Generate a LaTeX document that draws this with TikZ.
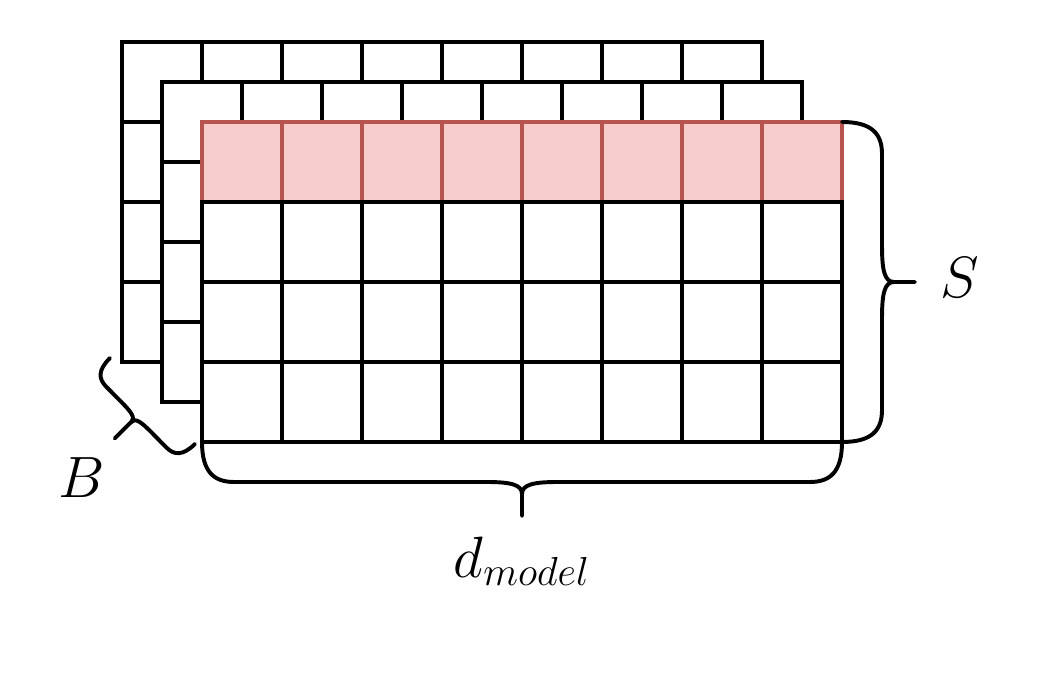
\documentclass[tikz,border=0pt]{standalone}
\usepackage{xcolor}
\usepackage{tikz}
\usetikzlibrary{calc}
\usepackage{amsmath, amssymb}

\definecolor{cellfill}{HTML}{F8CECC}
\definecolor{celledge}{HTML}{B85450}

% curly bracket: [scope opts]{start}{angle}{length}{bar depth}{tip depth}
\newcommand{\dimbrace}[6][]{%
  \begin{scope}[shift={#2}, rotate=#3, #1]
    \draw[bracket] (0,0) .. controls (0,{-0.75*#5}) and (0.15,-#5) .. (0.4,-#5)
      -- ({#4/2-0.45},-#5) .. controls ({#4/2-0.15},-#5) and ({#4/2},{-#5-0.03}) .. ({#4/2},{-#5-0.15})
      -- ({#4/2},-#6);
    \draw[bracket] (#4,0) .. controls (#4,{-0.75*#5}) and ({#4-0.15},-#5) .. ({#4-0.4},-#5)
      -- ({#4/2+0.45},-#5) .. controls ({#4/2+0.15},-#5) and ({#4/2},{-#5-0.03}) .. ({#4/2},{-#5-0.15});
  \end{scope}}

\begin{document}
\begin{tikzpicture}[
  cell/.style={draw=black, line width=1.4pt, fill=white},
  hot/.style={draw=celledge, line width=1.4pt, fill=cellfill},
  bracket/.style={line width=1.4pt, line cap=round},
  lbl/.style={font=\huge},
]
  \useasboundingbox (-2.525,-2.975) rectangle (10.475,5.525);

  % batch copies behind
  \foreach \off in {1,0.5} {
    \begin{scope}[shift={(-\off,\off)}]
      \foreach \i in {0,...,7}
        \foreach \j in {0,...,3}
          \draw[cell] (\i,\j) rectangle ++(1,1);
    \end{scope}
  }

  % front matrix, first row highlighted
  \foreach \i in {0,...,7}
    \draw[hot] (\i,3) rectangle ++(1,1);
  \foreach \i in {0,...,7}
    \foreach \j in {0,...,2}
      \draw[cell] (\i,\j) rectangle ++(1,1);

  % braces
  \dimbrace{(8,0)}{90}{4}{0.5}{0.91}
  \dimbrace{(0,0)}{0}{8}{0.5}{0.925}
  \dimbrace[scale=0.55]{(-1.15,1.05)}{-45.3}{2.747}{0.52}{1.21}

  \node[lbl, anchor=base] (seq)   at (9.475,1.81)  {$S$};
  \node[lbl, anchor=base] (dmod)  at (4,-1.69)     {$d_{model}$};
  \node[lbl, anchor=base] (batch) at (-1.5,-0.69)  {$B$};
\end{tikzpicture}
\end{document}
